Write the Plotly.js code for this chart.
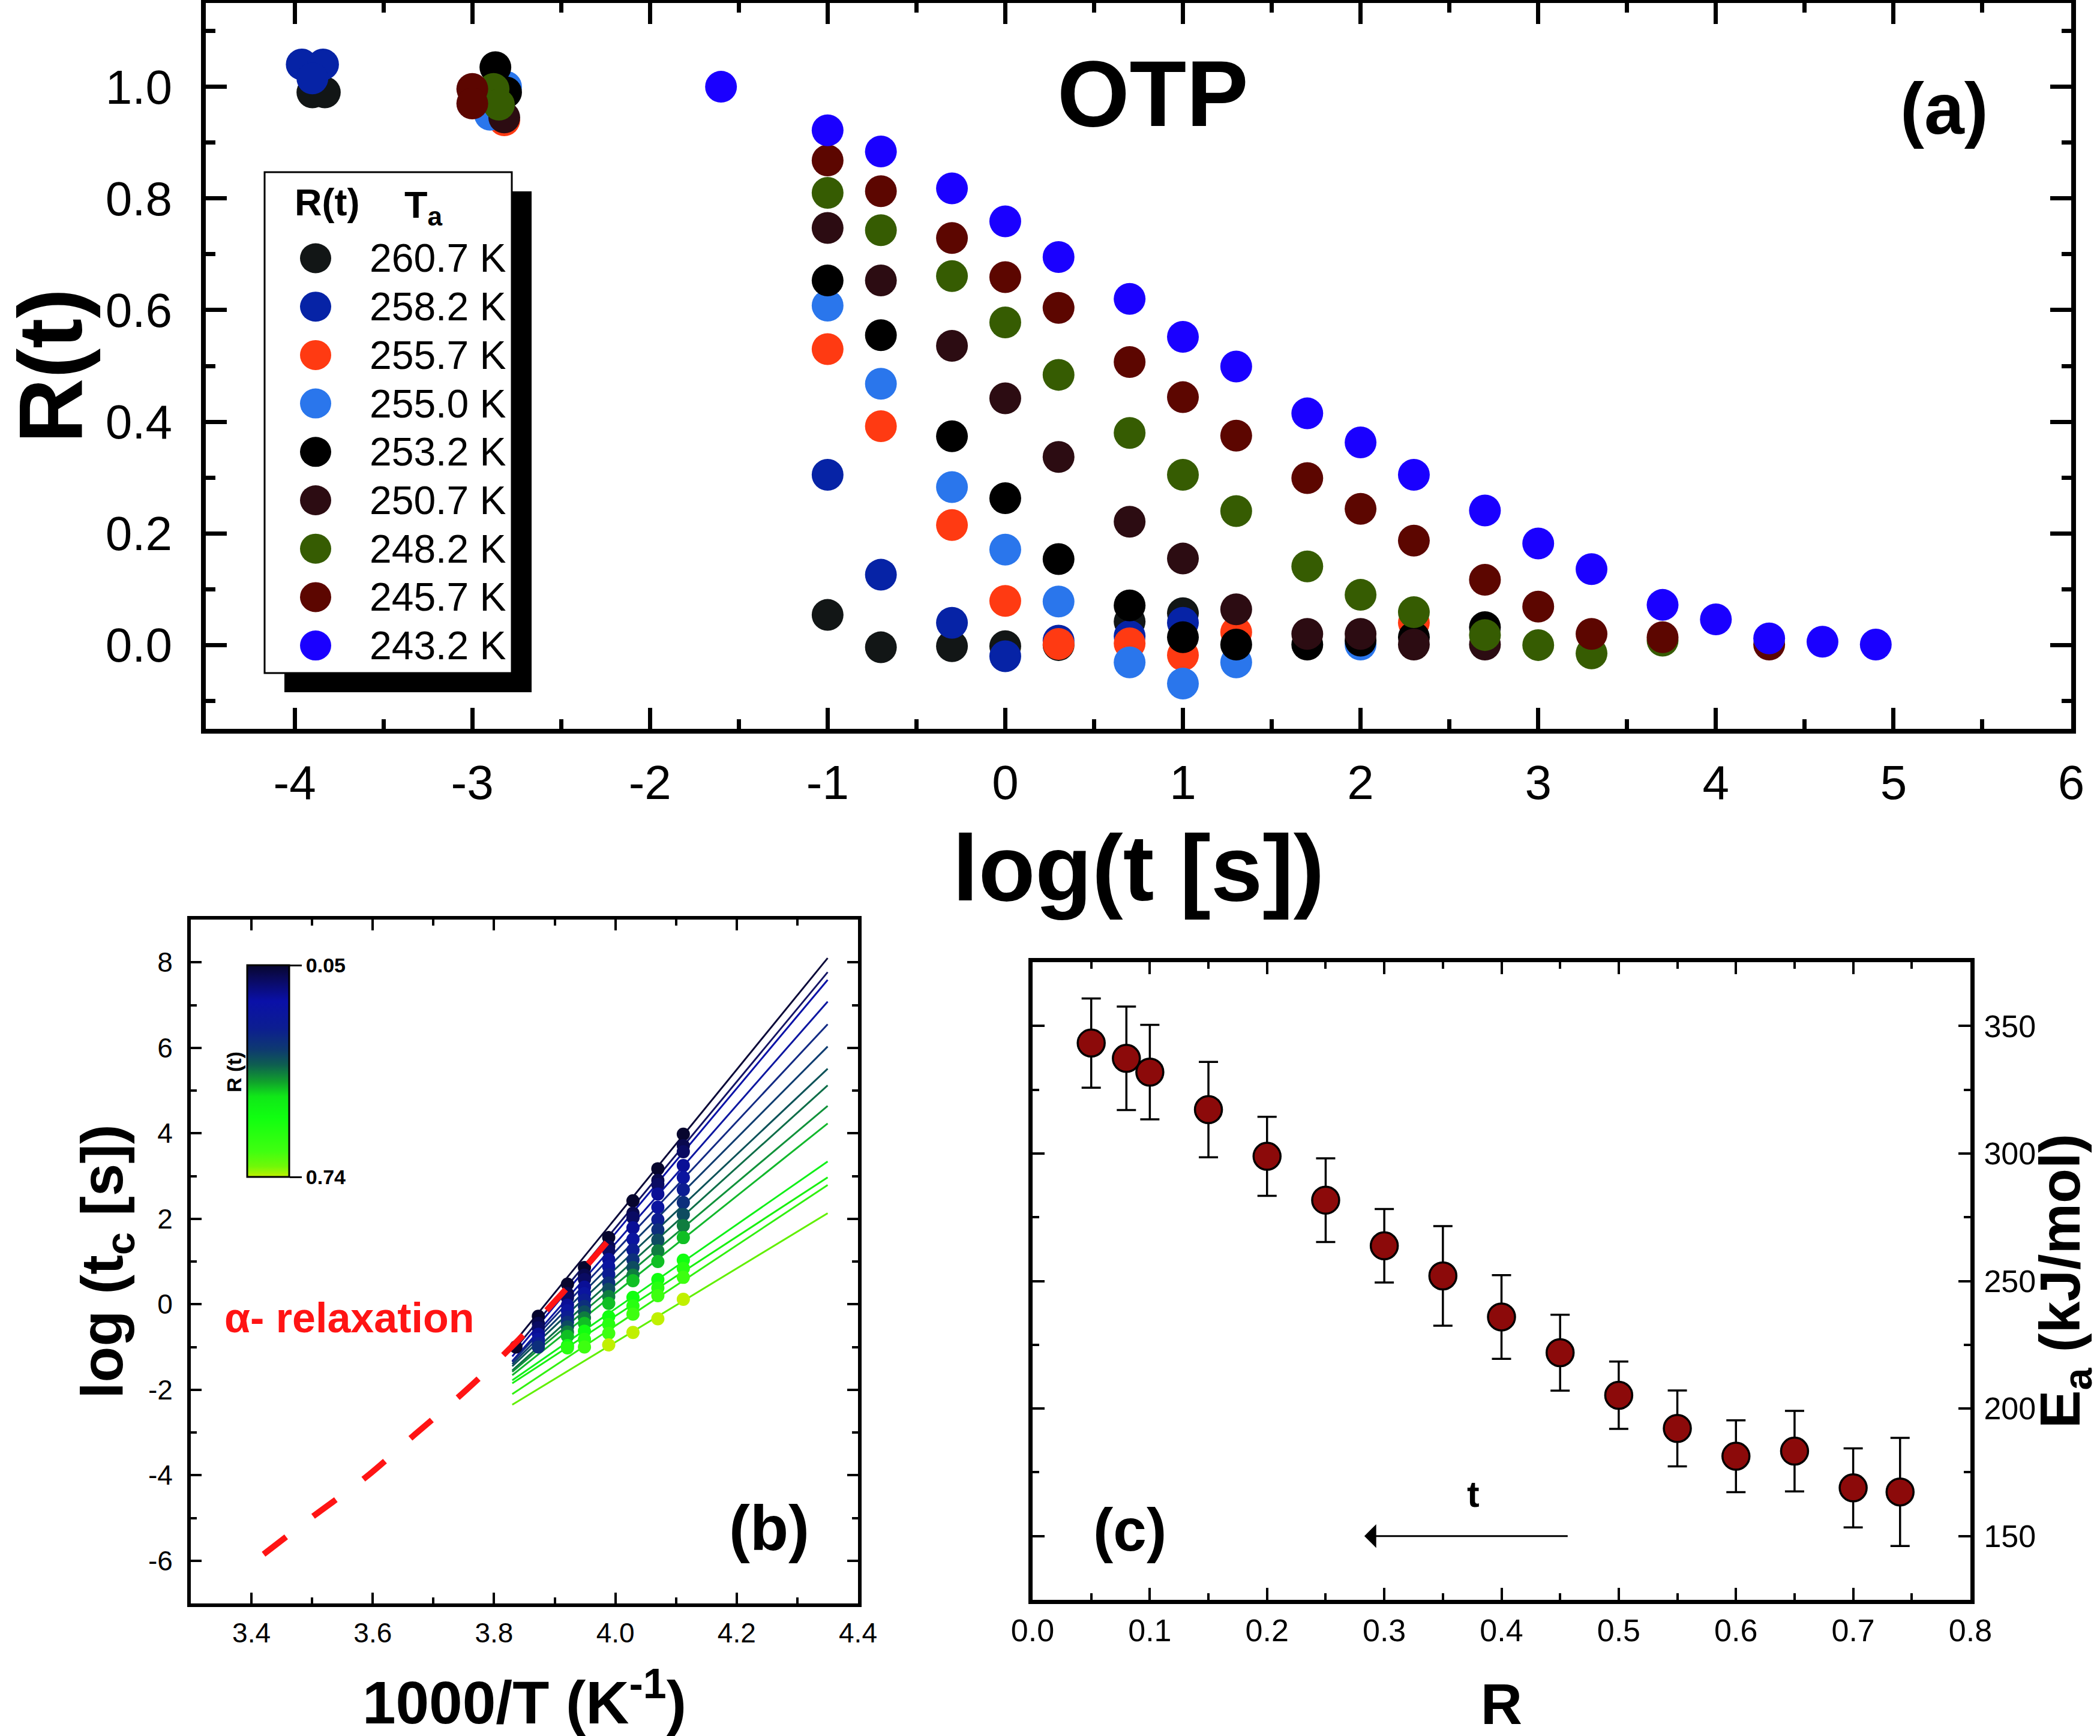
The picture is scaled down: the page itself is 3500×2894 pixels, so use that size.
<!DOCTYPE html>
<html>
<head>
<meta charset="utf-8">
<script src="https://cdn.plot.ly/plotly-3.0.1.min.js"></script>
<style>
  html, body { margin: 0; padding: 0; background: #ffffff; }
  #chart { width: 3500px; height: 2894px; }
</style>
</head>
<body>
<div id="chart"></div>
<script>
// ---------- (a) recovery R(t) of OTP after annealing at T_a ----------
const annealLabels = ['260.7 K', '258.2 K', '255.7 K', '255.0 K', '253.2 K', '250.7 K', '248.2 K', '245.7 K', '243.2 K'];
const annealColors = ['#121616', '#0623a6', '#ff3a12', '#2a76ec', '#000000', '#2c0c12', '#365c02', '#5c0600', '#1a00ff'];

const logt_260_7 = [-3.90, -3.83, -1.0, -0.7, -0.3, 0.0, 0.3, 0.7, 1.0];
const R_260_7    = [0.99, 0.99, 0.054, -0.004, -0.002, -0.002, 0.0, 0.042, 0.057];

const logt_258_2 = [-3.96, -3.84, -3.90, -1.0, -0.7, -0.3, 0.0, 0.3, 0.7, 1.0];
const R_258_2    = [1.04, 1.04, 1.015, 0.305, 0.126, 0.040, -0.020, 0.008, 0.016, 0.040];

const logt_255_7 = [-2.82, -1.0, -0.7, -0.3, 0.0, 0.3, 0.7, 1.0, 1.3, 2.3];
const R_255_7    = [0.94, 0.530, 0.392, 0.215, 0.079, 0.002, 0.003, -0.018, 0.023, 0.040];

const logt_255_0 = [-2.81, -2.90, -1.0, -0.7, -0.3, 0.0, 0.3, 0.7, 1.0, 1.3, 2.0];
const R_255_0    = [1.0, 0.95, 0.608, 0.468, 0.283, 0.171, 0.078, -0.031, -0.069, -0.031, 0.001];

const logt_253_2 = [-2.87, -2.81, -1.0, -0.7, -0.3, 0.0, 0.3, 0.7, 1.0, 1.3, 1.7, 2.0, 2.3, 2.7];
const R_253_2    = [1.035, 0.99, 0.653, 0.555, 0.374, 0.263, 0.154, 0.071, 0.014, 0.001, 0.001, 0.008, 0.014, 0.032];

const logt_250_7 = [-2.82, -1.0, -0.7, -0.3, 0.0, 0.3, 0.7, 1.0, 1.3, 1.7, 2.0, 2.3, 2.7];
const R_250_7    = [0.945, 0.747, 0.653, 0.536, 0.442, 0.337, 0.221, 0.155, 0.064, 0.020, 0.020, 0.001, 0.001];

const logt_248_2 = [-2.88, -2.85, -1.0, -0.7, -0.3, 0.0, 0.3, 0.7, 1.0, 1.3, 1.7, 2.0, 2.3, 2.7, 3.0, 3.3, 3.7];
const R_248_2    = [0.996, 0.968, 0.810, 0.743, 0.661, 0.578, 0.484, 0.380, 0.305, 0.240, 0.141, 0.090, 0.059, 0.018, 0.0, -0.015, 0.008];

const logt_245_7 = [-3.0, -3.0, -1.0, -0.7, -0.3, 0.0, 0.3, 0.7, 1.0, 1.3, 1.7, 2.0, 2.3, 2.7, 3.0, 3.3, 3.7, 4.3];
const R_245_7    = [0.996, 0.970, 0.868, 0.813, 0.729, 0.659, 0.604, 0.507, 0.444, 0.375, 0.299, 0.244, 0.187, 0.117, 0.069, 0.020, 0.014, 0.001];

const logt_243_2 = [-1.6, -1.0, -0.7, -0.3, 0.0, 0.3, 0.7, 1.0, 1.3, 1.7, 2.0, 2.3, 2.7, 3.0, 3.3, 3.7, 4.0, 4.3, 4.6, 4.9];
const R_243_2    = [1.0, 0.922, 0.884, 0.818, 0.759, 0.695, 0.620, 0.552, 0.499, 0.415, 0.363, 0.305, 0.241, 0.182, 0.136, 0.072, 0.046, 0.012, 0.006, 0.001];

const aTickVals = [-4, -3, -2, -1, 0, 1, 2, 3, 4, 5, 6];
const aTickText = ['-4', '-3', '-2', '-1', '0', '1', '2', '3', '4', '5', '6'];

// ---------- (b) log(t_c) versus 1000/T for each recovery level ----------
const levelR = [0.05, 0.08, 0.10, 0.15, 0.20, 0.25, 0.30, 0.35, 0.40, 0.45, 0.55, 0.60, 0.65, 0.74];
const invT_columns = [3.836, 3.873, 3.921, 3.949, 3.989, 4.029, 4.070, 4.112];
const logtc_3836 = [-1.0];
const logtc_3873 = [-0.28, -0.45, -0.55, -0.70, -0.82, -0.92, -1.0];
const logtc_3921 = [0.47, 0.25, 0.15, -0.02, -0.15, -0.30, -0.42, -0.53, -0.65, -0.75, -0.97, -1.02];
const logtc_3949 = [0.86, 0.68, 0.58, 0.40, 0.25, 0.10, -0.05, -0.18, -0.32, -0.45, -0.63, -0.82, -1.0];
const logtc_3989 = [1.56, 1.35, 1.25, 1.05, 0.88, 0.70, 0.50, 0.35, 0.18, 0.02, -0.29, -0.47, -0.68, -0.95];
const logtc_4029 = [2.42, 2.13, 2.02, 1.79, 1.52, 1.27, 1.04, 0.86, 0.68, 0.55, 0.16, -0.04, -0.23, -0.66];
const logtc_4070 = [3.17, 2.90, 2.80, 2.58, 2.27, 1.98, 1.74, 1.50, 1.25, 1.00, 0.58, 0.38, 0.20, -0.34];
const logtc_4112 = [3.98, 3.71, 3.57, 3.245, 2.965, 2.68, 2.38, 2.10, 1.84, 1.56, 1.03, 0.84, 0.63, 0.115];

const fitInvT = [3.83, 4.35];
const fitLogStart = [-0.95, -1.12, -1.22, -1.33, -1.35, -1.40, -1.45, -1.55, -1.58, -1.66, -1.78, -1.85, -2.10, -2.35];
const fitLogEnd   = [8.10, 7.77, 7.59, 7.08, 6.55, 6.03, 5.51, 5.12, 4.64, 4.23, 3.34, 2.97, 2.79, 2.13];
const fitColors = ['#0a0838', '#141464', '#0a12a8', '#0c16a0', '#122a84', '#0e3c70', '#0c5258',
                   '#0e6e48', '#10923a', '#12b82c', '#10f018', '#18f010', '#30f010', '#60f000'];

const alphaInvT = [3.42, 3.50, 3.59, 3.67, 3.75, 3.83, 3.91, 4.00];
const alphaLogT = [-5.85, -4.98, -4.03, -3.04, -2.06, -0.98, 0.22, 1.68];

const bXTickVals = [3.4, 3.6, 3.8, 4.0, 4.2, 4.4];
const bXTickText = ['3.4', '3.6', '3.8', '4.0', '4.2', '4.4'];
const bYTickVals = [-6, -4, -2, 0, 2, 4, 6, 8];
const bYTickText = ['-6', '-4', '-2', '0', '2', '4', '6', '8'];
const colorbarTickR = [0.05, 0.74];

// ---------- (c) apparent activation energy versus R ----------
const recoveryR = [0.05, 0.08, 0.10, 0.15, 0.20, 0.25, 0.30, 0.35, 0.40, 0.45, 0.50, 0.55, 0.60, 0.65, 0.70, 0.74];
const activationE = [343.3, 337.3, 331.9, 317.2, 298.9, 281.7, 263.8, 252.0, 235.9, 221.9, 205.2, 192.2, 181.3, 183.3, 168.9, 167.3];
const activationErr = [17.5, 20.3, 18.5, 18.7, 15.5, 16.4, 14.4, 19.5, 16.4, 14.9, 13.2, 14.9, 14.1, 15.8, 15.5, 21.2];

// ---------- page geometry ----------
const W = 3500, H = 2894;
const FONT = 'Liberation Sans, Arial, Helvetica, sans-serif';
const px = v => v / W;
const py = v => 1 - v / H;

const traces = [];

// panel (a) scatter series
const aSeries = [
  [logt_260_7, R_260_7], [logt_258_2, R_258_2], [logt_255_7, R_255_7],
  [logt_255_0, R_255_0], [logt_253_2, R_253_2], [logt_250_7, R_250_7],
  [logt_248_2, R_248_2], [logt_245_7, R_245_7], [logt_243_2, R_243_2]
];
aSeries.forEach(([xs, ys], i) => {
  traces.push({
    type: 'scatter', mode: 'markers', xaxis: 'x', yaxis: 'y',
    name: annealLabels[i], x: xs, y: ys,
    marker: { size: 53, color: annealColors[i], line: { width: 0 } }
  });
});

// panel (b) Arrhenius fit lines
fitLogStart.forEach((y0, i) => {
  traces.push({
    type: 'scatter', mode: 'lines', xaxis: 'x2', yaxis: 'y2',
    name: 'R = ' + levelR[i], x: fitInvT, y: [y0, fitLogEnd[i]],
    line: { color: fitColors[i], width: 3 }
  });
});

// panel (b) crossing times; the colour axis runs downward from R = 0.05 to R = 0.74,
// so it is expressed as -R with a reversed scale.
const bColumns = [logtc_3836, logtc_3873, logtc_3921, logtc_3949, logtc_3989, logtc_4029, logtc_4070, logtc_4112];
const bX = [], bY = [], bC = [];
bColumns.forEach((col, j) => {
  col.forEach((v, i) => { bX.push(invT_columns[j]); bY.push(v); bC.push(-levelR[i]); });
});
const rColorscale = [
  [0.00, '#07062e'], [0.06, '#0a0a5a'], [0.17, '#0a10a8'], [0.30, '#0c1e90'],
  [0.40, '#0e3a70'], [0.47, '#0e5e50'], [0.55, '#10a02c'], [0.62, '#10e818'],
  [0.72, '#10ff10'], [0.88, '#40ff10'], [0.95, '#70f808'], [1.00, '#c0f000']
];
traces.push({
  type: 'scatter', mode: 'markers', xaxis: 'x2', yaxis: 'y2', name: 't_c',
  x: bX, y: bY,
  marker: {
    size: 22, color: bC, colorscale: rColorscale, reversescale: true,
    cmin: -colorbarTickR[1], cmax: -colorbarTickR[0],
    showscale: true,
    colorbar: {
      x: px(412), xanchor: 'left', xref: 'paper',
      y: py(1785.5), yanchor: 'middle', yref: 'paper',
      len: 353, lenmode: 'pixels', thickness: 70, thicknessmode: 'pixels',
      xpad: 0, ypad: 0, outlinewidth: 3, outlinecolor: '#000', borderwidth: 0,
      tickmode: 'array', tickvals: colorbarTickR.map(v => -v), ticktext: colorbarTickR.map(v => v.toFixed(2)),
      ticks: 'outside', ticklen: 20, tickwidth: 3, tickcolor: '#000',
      tickfont: { family: FONT, size: 34, color: '#000', weight: 'bold' }
    }
  }
});

// panel (b) alpha-relaxation (VFT) curve
traces.push({
  type: 'scatter', mode: 'lines', xaxis: 'x2', yaxis: 'y2', name: 'alpha relaxation',
  x: alphaInvT, y: alphaLogT,
  line: { color: '#ff1414', width: 10, dash: '47px,57px', shape: 'spline' }
});

// panel (c) activation energy with error bars
traces.push({
  type: 'scatter', mode: 'markers', xaxis: 'x3', yaxis: 'y3', name: 'Ea',
  x: recoveryR, y: activationE,
  error_y: { type: 'data', array: activationErr, visible: true, color: '#000', thickness: 3.5, width: 16 },
  marker: { size: 45, color: '#8c0a0a', line: { color: '#000', width: 3.5 } }
});

// ---------- axes ----------
function frameAxis(opts) {
  return Object.assign({
    showline: true, linecolor: '#000', mirror: 'allticks',
    ticks: 'inside', tickcolor: '#000',
    showgrid: false, zeroline: false
  }, opts);
}

const layout = {
  width: W, height: H,
  margin: { l: 0, r: 0, t: 0, b: 0, pad: 0 },
  paper_bgcolor: '#ffffff', plot_bgcolor: 'rgba(0,0,0,0)',
  showlegend: false,
  font: { family: FONT, color: '#000' },

  xaxis: frameAxis({
    domain: [px(343), px(3452)], anchor: 'y', range: [-4.5, 6],
    tickmode: 'array', tickvals: aTickVals, ticktext: aTickText,
    ticklen: 35, tickwidth: 7, linewidth: 8,
    tickfont: { family: FONT, size: 80, color: '#000' }, ticklabelstandoff: 13,
    minor: { tickmode: 'linear', tick0: -4.5, dtick: 0.5, ticks: 'inside', ticklen: 16, tickwidth: 7, tickcolor: '#000', showgrid: false },
    title: { text: 'log(t [s])', font: { family: FONT, size: 155, weight: 'bold', color: '#000' }, standoff: 47 }
  }),
  yaxis: frameAxis({
    domain: [py(1215), py(5)], anchor: 'x', range: [-0.15, 1.15],
    tickmode: 'linear', tick0: 0, dtick: 0.2, tickformat: '.1f',
    ticklen: 35, tickwidth: 7, linewidth: 8,
    tickfont: { family: FONT, size: 80, color: '#000' }, ticklabelstandoff: 32,
    minor: { tickmode: 'linear', tick0: 0, dtick: 0.1, ticks: 'inside', ticklen: 16, tickwidth: 7, tickcolor: '#000', showgrid: false },
    title: { text: 'R(t)', font: { family: FONT, size: 150, weight: 'bold', color: '#000' }, standoff: 62 }
  }),

  xaxis2: frameAxis({
    domain: [px(318), px(1430)], anchor: 'y2', range: [3.3, 4.4],
    tickmode: 'array', tickvals: bXTickVals, ticktext: bXTickText,
    ticklen: 18, tickwidth: 4, linewidth: 6,
    tickfont: { family: FONT, size: 46, color: '#000' }, ticklabelstandoff: 4,
    minor: { tickmode: 'linear', tick0: 3.3, dtick: 0.1, ticks: 'inside', ticklen: 10, tickwidth: 4, tickcolor: '#000', showgrid: false },
    title: { text: '1000/T (K<sup>-1</sup>)', font: { family: FONT, size: 100, weight: 'bold', color: '#000' }, standoff: 60 }
  }),
  yaxis2: frameAxis({
    domain: [py(2673), py(1533)], anchor: 'x2', range: [-7, 9],
    tickmode: 'array', tickvals: bYTickVals, ticktext: bYTickText,
    ticklen: 18, tickwidth: 4, linewidth: 6,
    tickfont: { family: FONT, size: 46, color: '#000' }, ticklabelstandoff: 15,
    minor: { tickmode: 'linear', tick0: -7, dtick: 1, ticks: 'inside', ticklen: 10, tickwidth: 4, tickcolor: '#000', showgrid: false },
    title: { text: 'log (t<sub>c</sub> [s])', font: { family: FONT, size: 98, weight: 'bold', color: '#000' }, standoff: 12 }
  }),

  xaxis3: frameAxis({
    domain: [px(1721), px(3284)], anchor: 'y3', range: [0, 0.8],
    tickmode: 'linear', tick0: 0, dtick: 0.1, tickformat: '.1f',
    ticklen: 20, tickwidth: 4, linewidth: 7,
    tickfont: { family: FONT, size: 52, color: '#000' }, ticklabelstandoff: 0,
    minor: { tickmode: 'linear', tick0: 0, dtick: 0.05, ticks: 'inside', ticklen: 11, tickwidth: 4, tickcolor: '#000', showgrid: false },
    title: { text: 'R', font: { family: FONT, size: 96, weight: 'bold', color: '#000' }, standoff: 78 }
  }),
  yaxis3: frameAxis({
    domain: [py(2667), py(1604)], anchor: 'x3', side: 'right', range: [125, 375],
    tickmode: 'linear', tick0: 150, dtick: 50,
    ticklen: 20, tickwidth: 4, linewidth: 7,
    tickfont: { family: FONT, size: 52, color: '#000' }, ticklabelstandoff: 5,
    minor: { tickmode: 'linear', tick0: 125, dtick: 25, ticks: 'inside', ticklen: 11, tickwidth: 4, tickcolor: '#000', showgrid: false },
    title: { text: 'E<sub>a</sub> (kJ/mol)', font: { family: FONT, size: 95, weight: 'bold', color: '#000' }, standoff: 42 }
  }),

  shapes: [],
  annotations: []
};

// ---------- legend box of panel (a) ----------
layout.shapes.push({ type: 'rect', xref: 'paper', yref: 'paper', layer: 'above',
  x0: px(474), x1: px(886), y0: py(1154), y1: py(319), fillcolor: '#000', line: { width: 0 } });
layout.shapes.push({ type: 'rect', xref: 'paper', yref: 'paper', layer: 'above',
  x0: px(441), x1: px(853), y0: py(1122), y1: py(287), fillcolor: '#fff', line: { color: '#000', width: 3 } });

const legendRowTop = 430.5, legendRowStep = 80.7;
annealLabels.forEach((lab, i) => {
  const cy = legendRowTop + i * legendRowStep;
  layout.shapes.push({ type: 'circle', xref: 'paper', yref: 'paper', layer: 'above',
    xsizemode: 'pixel', ysizemode: 'pixel', xanchor: px(526), yanchor: py(cy),
    x0: -26, x1: 26, y0: -25, y1: 25, fillcolor: annealColors[i], line: { width: 0 } });
  layout.annotations.push({ xref: 'paper', yref: 'paper', x: px(614), y: py(cy), xanchor: 'left', yanchor: 'middle',
    text: lab, showarrow: false, font: { family: FONT, size: 66, color: '#000' } });
});
layout.annotations.push({ xref: 'paper', yref: 'paper', x: px(545), y: py(337), xanchor: 'center', yanchor: 'middle',
  text: 'R(t)', showarrow: false, font: { family: FONT, size: 63, weight: 'bold', color: '#000' } });
layout.annotations.push({ xref: 'paper', yref: 'paper', x: px(672), y: py(345), xanchor: 'left', yanchor: 'middle',
  text: 'T<sub>a</sub>', showarrow: false, font: { family: FONT, size: 63, weight: 'bold', color: '#000' } });

// ---------- panel labels and notes ----------
layout.annotations.push({ xref: 'x', yref: 'y', x: 0.83, y: 0.987, text: 'OTP', showarrow: false,
  xanchor: 'center', yanchor: 'middle', font: { family: FONT, size: 155, weight: 'bold', color: '#000' } });
layout.annotations.push({ xref: 'x', yref: 'y', x: 5.285, y: 0.961, text: '(a)', showarrow: false,
  xanchor: 'center', yanchor: 'middle', font: { family: FONT, size: 120, weight: 'bold', color: '#000' } });

layout.annotations.push({ xref: 'x2', yref: 'y2', x: 3.3535, y: -0.32, text: '\u03b1- relaxation', showarrow: false,
  xanchor: 'left', yanchor: 'middle', font: { family: FONT, size: 70, weight: 'bold', color: '#ff1414' } });
layout.annotations.push({ xref: 'x2', yref: 'y2', x: 4.254, y: -5.24, text: '(b)', showarrow: false,
  xanchor: 'center', yanchor: 'middle', font: { family: FONT, size: 105, weight: 'bold', color: '#000' } });
layout.annotations.push({ xref: 'paper', yref: 'paper', x: px(390), y: py(1787), text: 'R (t)', showarrow: false,
  textangle: -90, xanchor: 'center', yanchor: 'middle', font: { family: FONT, size: 34, weight: 'bold', color: '#000' } });

layout.annotations.push({ xref: 'x3', yref: 'y3', x: 0.083, y: 152.6, text: '(c)', showarrow: false,
  xanchor: 'center', yanchor: 'middle', font: { family: FONT, size: 100, weight: 'bold', color: '#000' } });
layout.annotations.push({ xref: 'x3', yref: 'y3', x: 0.376, y: 166.6, text: 't', showarrow: false,
  xanchor: 'center', yanchor: 'middle', font: { family: FONT, size: 62, weight: 'bold', color: '#000' } });
layout.annotations.push({ xref: 'x3', yref: 'y3', x: 0.283, y: 150, axref: 'x3', ayref: 'y3', ax: 0.458, ay: 150,
  text: ' ', showarrow: true, arrowhead: 1, arrowsize: 2.2, arrowwidth: 3, arrowcolor: '#000' });

Plotly.newPlot('chart', traces, layout, { staticPlot: true, displayModeBar: false });
</script>
</body>
</html>
